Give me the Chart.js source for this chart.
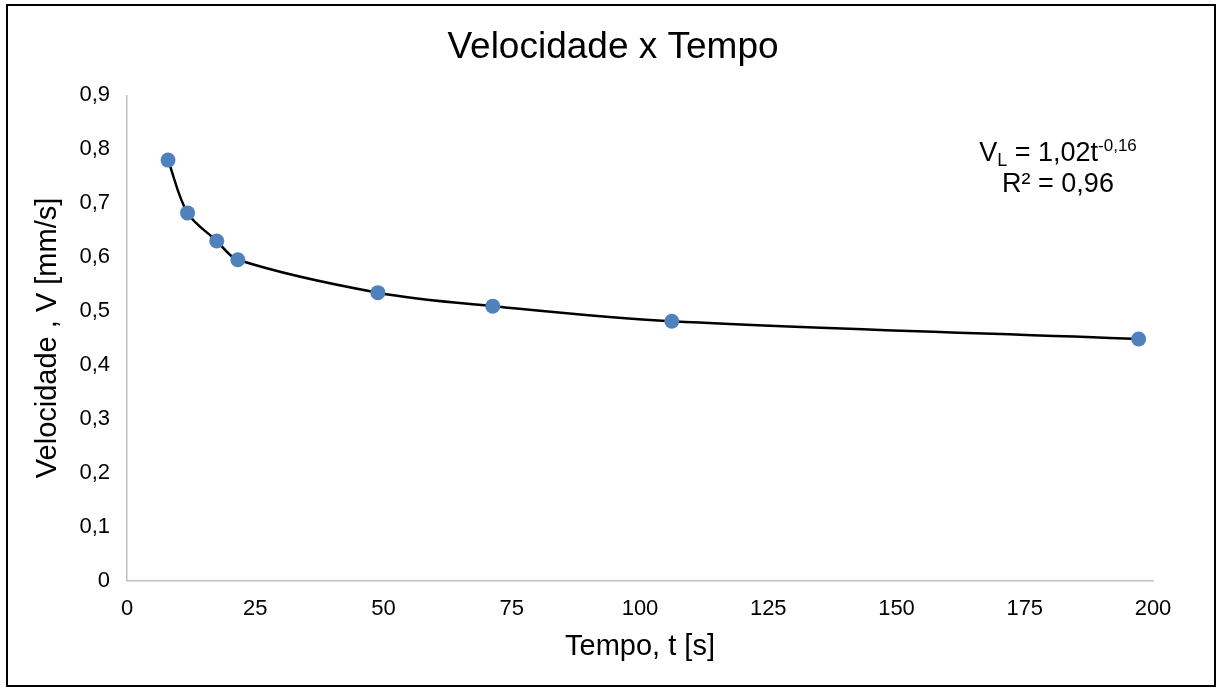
<!DOCTYPE html>
<html>
<head>
<meta charset="utf-8">
<script src="https://cdn.jsdelivr.net/npm/chart.js@4/dist/chart.umd.min.js"></script>
<style>
  html, body { margin: 0; padding: 0; background: #fff; }
  #wrap { position: absolute; left: 0; top: 0; width: 1218px; height: 688px; }
</style>
</head>
<body>
<div id="wrap"><canvas id="velChart"></canvas></div>
<script>
// dados
const tempo = [8, 11.8, 17.5, 21.6, 48.9, 71.3, 106.2, 197.2];
const velocidade = [0.780, 0.682, 0.630, 0.595, 0.534, 0.509, 0.481, 0.448];
const xTicks = [0, 25, 50, 75, 100, 125, 150, 175, 200];
const yTicks = [0, 0.1, 0.2, 0.3, 0.4, 0.5, 0.6, 0.7, 0.8, 0.9];

const FONT = "'Liberation Sans', Arial, sans-serif";
const fmt = (v) => v === 0 ? "0" : v.toFixed(1).replace(".", ",");

// moldura + equacao da linha de tendencia
const extras = {
  id: "extras",
  afterDraw(chart) {
    const c = chart.ctx;
    const area = chart.chartArea;
    c.save();
    c.strokeStyle = "#000";
    c.lineWidth = 2;
    c.strokeRect(7, 5, 1208, 681);

    c.fillStyle = "#000";
    c.textBaseline = "alphabetic";
    const big = "27px " + FONT;
    const parts = [
      { t: "V", f: big, dy: 0 },
      { t: "L", f: "18px " + FONT, dy: 5 },
      { t: " = 1,02t", f: big, dy: 0 },
      { t: "-0,16", f: "17px " + FONT, dy: -10 }
    ];
    let w = 0;
    parts.forEach(p => { c.font = p.f; p.w = c.measureText(p.t).width; w += p.w; });
    const cx = area.right - 95;
    let x = cx - w / 2;
    const base1 = area.top + 66;
    c.textAlign = "left";
    parts.forEach(p => { c.font = p.f; c.fillText(p.t, x, base1 + p.dy); x += p.w; });

    c.font = big;
    c.textAlign = "center";
    c.fillText("R² = 0,96", cx, area.top + 97);
    c.restore();
  }
};

new Chart(document.getElementById("velChart"), {
  type: "scatter",
  data: {
    datasets: [{
      label: "Velocidade",
      data: tempo.map((t, i) => ({ x: t, y: velocidade[i] })),
      showLine: true,
      tension: 0.33,
      borderColor: "#000000",
      borderWidth: 2.5,
      pointRadius: 7.5,
      pointHoverRadius: 7.5,
      pointBackgroundColor: "#4F81BD",
      pointBorderColor: "#4F81BD",
      pointBorderWidth: 0
    }]
  },
  options: {
    responsive: true,
    maintainAspectRatio: false,
    animation: false,
    layout: { padding: { left: 8, right: 0, top: 0, bottom: 0 } },
    plugins: {
      legend: { display: false },
      tooltip: { enabled: false },
      title: {
        display: true,
        text: "Velocidade x Tempo",
        color: "#000",
        font: { family: FONT, size: 37, weight: "normal" },
        padding: { top: 26, bottom: 25 }
      }
    },
    scales: {
      x: {
        type: "linear",
        min: 0,
        max: 200,
        afterBuildTicks: (s) => { s.ticks = xTicks.map(v => ({ value: v })); },
        afterFit: (s) => { s.height = 107.5; },
        grid: { display: false, drawTicks: false },
        border: { display: true, color: "#bfbfbf", width: 1.5 },
        ticks: {
          color: "#000",
          padding: 15,
          maxRotation: 0,
          font: { family: FONT, size: 22 },
          callback: (v) => String(v)
        },
        title: {
          display: true,
          text: "Tempo, t [s]",
          color: "#000",
          font: { family: FONT, size: 29 },
          padding: { top: 0, bottom: 24 }
        }
      },
      y: {
        type: "linear",
        min: 0,
        max: 0.9,
        afterBuildTicks: (s) => { s.ticks = yTicks.map(v => ({ value: v })); },
        afterFit: (s) => { s.width = 119; },
        grid: { display: false, drawTicks: false },
        border: { display: true, color: "#bfbfbf", width: 1.5 },
        ticks: {
          color: "#000",
          padding: 17,
          font: { family: FONT, size: 22 },
          callback: (v) => fmt(v)
        },
        title: {
          display: true,
          text: "Velocidade , V [mm/s]",
          color: "#000",
          font: { family: FONT, size: 29 },
          padding: { top: 23, bottom: 0 }
        }
      },
      // margem direita vazia, para o titulo ficar centrado na figura
      margemDir: {
        type: "linear",
        position: "right",
        afterFit: (s) => { s.width = 65; },
        grid: { display: false },
        border: { display: false },
        ticks: { display: false }
      }
    }
  },
  plugins: [extras]
});
</script>
</body>
</html>
